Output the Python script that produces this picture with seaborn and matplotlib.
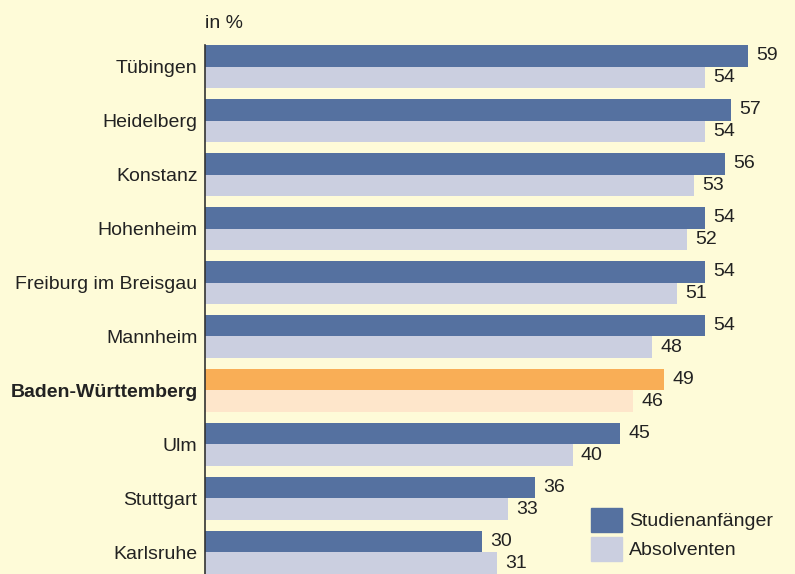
import matplotlib.pyplot as plt
import matplotlib.patches as mpatches
import seaborn as sns
import pandas as pd

# Anteil in % je Hochschulstandort (Balkenlängen)
orte = ["Tübingen", "Heidelberg", "Konstanz", "Hohenheim", "Freiburg im Breisgau",
        "Mannheim", "Baden-Württemberg", "Ulm", "Stuttgart", "Karlsruhe"]
anfaenger = [58.8, 56.9, 56.3, 54.1, 54.1, 54.1, 49.7, 44.9, 35.7, 30.0]
absolventen = [54.1, 54.1, 52.9, 52.2, 51.1, 48.4, 46.3, 39.8, 32.8, 31.6]
# beschriftete Werte
anfaenger_txt = ["59", "57", "56", "54", "54", "54", "49", "45", "36", "30"]
absolventen_txt = ["54", "54", "53", "52", "51", "48", "46", "40", "33", "31"]
serien = ["Studienanfänger", "Absolventen"]

bg = "#FEFBD8"
dunkel = "#5571A0"
hell = "#CBCFE0"
bw_dunkel = "#F9AE56"
bw_hell = "#FEE6CB"
fs = 14

df = pd.DataFrame({
    "Ort": orte * 2,
    "Wert": anfaenger + absolventen,
    "Gruppe": [serien[0]] * len(orte) + [serien[1]] * len(orte),
})

sns.set_style("white")
plt.rcParams["font.family"] = ["Liberation Sans", "DejaVu Sans"]

fig = plt.figure(figsize=(7.95, 5.74), dpi=100, facecolor=bg)
ax = fig.add_axes([204.5 / 795, 0, 590.5 / 795, 529 / 574])
ax.set_facecolor(bg)

sns.barplot(data=df, y="Ort", x="Wert", hue="Gruppe", orient="h",
            palette=[dunkel, hell], width=0.8, saturation=1, linewidth=0,
            ax=ax, legend=False)

bw = orte.index("Baden-Württemberg")
for cont, farbe, txt in zip(ax.containers, [bw_dunkel, bw_hell],
                            [anfaenger_txt, absolventen_txt]):
    cont.patches[bw].set_facecolor(farbe)
    ax.bar_label(cont, labels=txt, padding=6, fontsize=fs, color="#222222")

ax.set_xlim(0, 590.5 / 9.25)
ax.set_ylim(len(orte) - 0.6, -0.4)
ax.set_xlabel("")
ax.set_ylabel("")
ax.set_xticks([])
for s in ["top", "right", "bottom"]:
    ax.spines[s].set_visible(False)
ax.spines["left"].set_color("#333333")
ax.spines["left"].set_linewidth(1.2)
ax.tick_params(axis="y", length=0, pad=5, labelsize=fs, labelcolor="#222222")
for lbl in ax.get_yticklabels():
    if lbl.get_text() == "Baden-Württemberg":
        lbl.set_fontweight("bold")

fig.text(205 / 795, 1 - 23 / 574, "in %", fontsize=fs, color="#222222", va="center")

handles = [mpatches.Patch(color=dunkel, label=serien[0]),
           mpatches.Patch(color=hell, label=serien[1])]
fig.legend(handles=handles, loc="upper left", bbox_to_anchor=(573 / 795, 1 - 491 / 574),
           frameon=False, fontsize=fs, handlelength=1.6, handleheight=1.45,
           labelspacing=0.3, handletextpad=0.4, labelcolor="#222222")

fig.savefig("out.png", dpi=100, facecolor=bg)
